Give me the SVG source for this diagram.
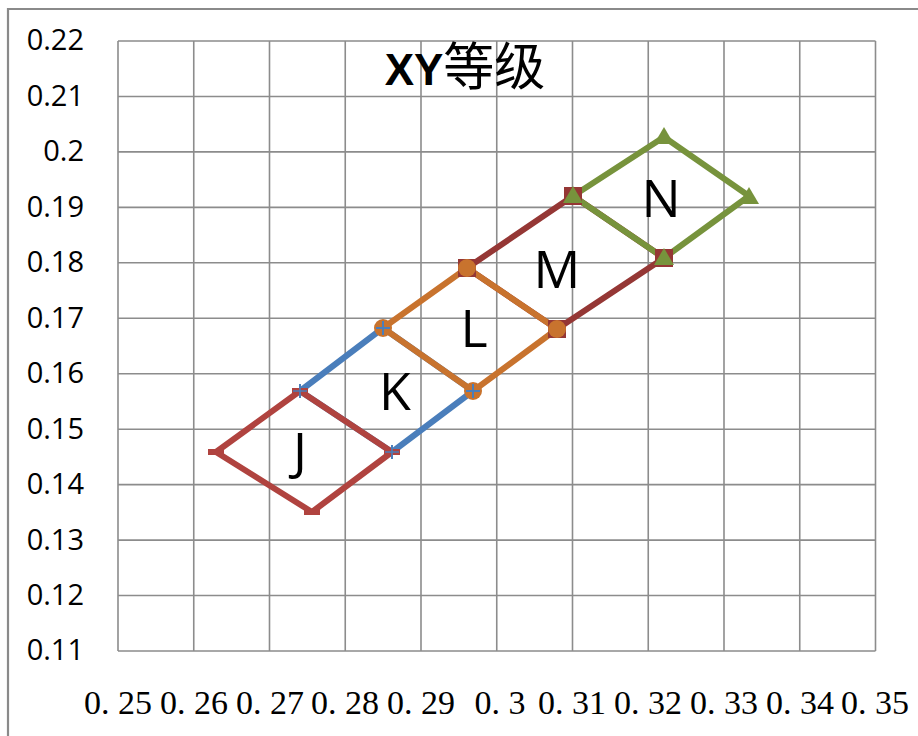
<svg xmlns="http://www.w3.org/2000/svg" width="918" height="736" viewBox="0 0 918 736">
<style>
.grid{stroke:#8c8c8c;stroke-width:1.6;fill:none}
.frame{stroke:#8a8a8a;stroke-width:2.2;fill:none}
.ylab{font-family:"Open Sans","Noto Sans",sans-serif;font-size:29px;fill:#000;text-anchor:end}
.xlab{font-family:"Liberation Serif",serif;font-size:34px;fill:#000;text-anchor:middle}
.lbl{font-family:"Open Sans","Noto Sans",sans-serif;font-size:52px;fill:#000;text-anchor:middle}
.ser{fill:none;stroke-width:6;stroke-linejoin:round;stroke-linecap:round}
</style>
<rect width="918" height="736" fill="#fff"/>
<path class="frame" d="M8,736 V9 H918"/>
<g id="grid">
<path class="grid" d="M118,41 V651 M193.75,41 V651 M269.5,41 V651 M345.25,41 V651 M421,41 V651 M496.75,41 V651 M572.5,41 V651 M648.25,41 V651 M724,41 V651 M799.75,41 V651 M875.5,41 V651"/>
<path class="grid" d="M118,41 H875.5 M118,96.5 H875.5 M118,151.9 H875.5 M118,207.4 H875.5 M118,262.8 H875.5 M118,318.3 H875.5 M118,373.7 H875.5 M118,429.2 H875.5 M118,484.6 H875.5 M118,540.1 H875.5 M118,595.5 H875.5 M118,651 H875.5"/>
</g>
<g id="y-axis">
<text class="ylab" x="84" y="50">0.22</text>
<text class="ylab" x="84" y="106">0.21</text>
<text class="ylab" x="84" y="161">0.2</text>
<text class="ylab" x="84" y="217">0.19</text>
<text class="ylab" x="84" y="272">0.18</text>
<text class="ylab" x="84" y="328">0.17</text>
<text class="ylab" x="84" y="383">0.16</text>
<text class="ylab" x="84" y="439">0.15</text>
<text class="ylab" x="84" y="494">0.14</text>
<text class="ylab" x="84" y="550">0.13</text>
<text class="ylab" x="84" y="605">0.12</text>
<text class="ylab" x="84" y="660">0.11</text>
</g>
<g id="x-axis">
<text class="xlab" x="118" y="714">0. 25</text>
<text class="xlab" x="194" y="714">0. 26</text>
<text class="xlab" x="270" y="714">0. 27</text>
<text class="xlab" x="345" y="714">0. 28</text>
<text class="xlab" x="421" y="714">0. 29</text>
<text class="xlab" x="500" y="714">0. 3</text>
<text class="xlab" x="572" y="714">0. 31</text>
<text class="xlab" x="648" y="714">0. 32</text>
<text class="xlab" x="724" y="714">0. 33</text>
<text class="xlab" x="800" y="714">0. 34</text>
<text class="xlab" x="875" y="714">0. 35</text>
</g>
<g id="title">
<text x="465" y="85" text-anchor="middle" style="font-family:'Liberation Sans','Noto Sans CJK SC',sans-serif;font-weight:bold;font-size:44px;fill:#000">XY<tspan style="font-family:'Noto Sans CJK SC',sans-serif;font-weight:normal;font-size:51px">等级</tspan></text>
</g>
<g id="connectors">
<polygon id="K-line" class="ser" stroke="#4a7ebb" points="300,391 383,328 473,391 392,452"/>
<polygon id="J-line" class="ser" stroke="#b0433f" points="216,452 300,391 392,452 312,512"/>
<polygon id="M-line" class="ser" stroke="#953735" points="467,268 573,196 664,258 557,329"/>
<polygon id="L-line" class="ser" stroke="#c8732e" points="383,328 467,268 557,329 473,391"/>
<polygon id="N-line" class="ser" stroke="#77933c" points="573,196 664,137 749,196 664,258"/>
</g>
<g id="M" fill="#953735">
<rect x="458" y="259" width="18" height="18"/>
<rect x="564" y="187" width="18" height="18"/>
<rect x="655" y="249" width="18" height="18"/>
<rect x="548" y="320" width="18" height="18"/>
<text class="lbl" x="557" y="288">M</text>
</g>
<g id="L" fill="#c8732e">
<circle cx="383" cy="328" r="9"/>
<circle cx="467" cy="268" r="9"/>
<circle cx="557" cy="329" r="9"/>
<circle cx="473" cy="391" r="9"/>
<text class="lbl" x="474" y="347">L</text>
</g>
<g id="K" stroke="#4a7ebb" stroke-width="2" fill="none">
<path d="M293,391 H307 M300,384 V398 M376,328 H390 M383,321 V335 M466,391 H480 M473,384 V398 M385,452 H399 M392,445 V459"/>
<text class="lbl" x="395" y="410" stroke="none" fill="#000">K</text>
</g>
<g id="J" fill="#b0433f">
<rect x="208" y="449" width="16" height="6"/>
<rect x="292" y="388" width="16" height="6"/>
<rect x="384" y="449" width="16" height="6"/>
<rect x="304" y="509" width="16" height="6"/>
<path d="M293,391 H307 M300,385 V397 M385,452 H399 M392,446 V458" stroke="#4a7ebb" stroke-width="1.6"/>
<text class="lbl" x="300" y="470" fill="#000">J</text>
</g>
<g id="N" fill="#77933c">
<polygon points="573,186 583,203 563,203"/>
<polygon points="664,127 674,144 654,144"/>
<polygon points="749,187 759,204 739,204"/>
<polygon points="664,248 674,265 654,265"/>
<text class="lbl" x="661" y="217" fill="#000">N</text>
</g>
</svg>
